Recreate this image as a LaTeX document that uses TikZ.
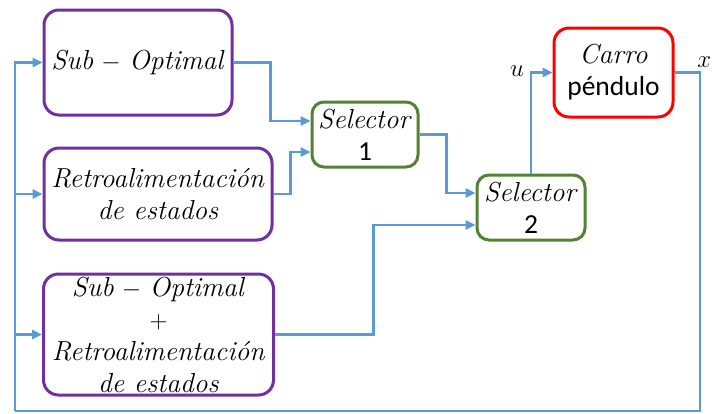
\documentclass[tikz,border=0pt]{standalone}
\usepackage{fontspec}
\newfontfamily\carlito{Carlito}
\usetikzlibrary{arrows.meta}
\definecolor{purpleC}{HTML}{7030A0}
\definecolor{greenC}{HTML}{548235}
\definecolor{redC}{HTML}{FF0000}
\definecolor{blueC}{HTML}{5B9BD5}
\begin{document}
\begin{tikzpicture}[x=1pt,y=-1pt,
  box/.style={draw, rounded corners=15pt, line width=3pt, align=center, inner sep=0pt, font=\fontsize{27.5}{32}\selectfont},
  pbox/.style={box, draw=purpleC},
  gbox/.style={box, draw=greenC, rounded corners=12pt},
  rbox/.style={box, draw=redC},
  conn/.style={draw=blueC, line width=2.4pt},
  arr/.style={conn, -{Triangle[length=10pt,width=9pt]}},
  lbl/.style={font=\fontsize{27.5}{32}\selectfont, inner sep=0pt}]
\useasboundingbox (0,0) rectangle (712,413);
\fill[white] (0,0) rectangle (712,413);
% blocks
\node[pbox, minimum width=188pt, minimum height=105pt] (b1) at (138,62.5) {\textit{Sub} $-$ \textit{Optimal}};
\node[pbox, minimum width=228pt, minimum height=92pt] (b2) at (158,194) {\textit{Retroalimentación}\\\textit{de estados}};
\node[pbox, minimum width=230pt, minimum height=121pt] (b3) at (158.5,334.5) {\textit{Sub} $-$ \textit{Optimal}\\$+$\\\textit{Retroalimentación}\\\textit{de estados}};
\node[gbox, minimum width=106pt, minimum height=65pt] (s1) at (365,134.5) {\textit{Selector}\\{\carlito 1}};
\node[gbox, minimum width=108pt, minimum height=65pt] (s2) at (531,207.5) {\textit{Selector}\\{\carlito 2}};
\node[rbox, minimum width=119pt, minimum height=89pt] (c) at (613.5,72.5) {\textit{Carro}\\{\carlito péndulo}};
% labels
\node[lbl] (u) at (517,71) {$u$};
\node[lbl, anchor=east] (x) at (711.5,62) {$x$};
% connectors
\draw[arr] (b1.east) -| ([xshift=-40pt,yshift=13.5pt]s1.west) -- ([yshift=13.5pt]s1.west);
\draw[arr] (b2.east) -| ([xshift=-20pt,yshift=-17.5pt]s1.west) -- ([yshift=-17.5pt]s1.west);
\draw[arr] (s1.east) -| ([xshift=-29pt,yshift=14.5pt]s2.west) -- ([yshift=14.5pt]s2.west);
\draw[arr] (b3.east) -| ([xshift=-102pt,yshift=-17.5pt]s2.west) -- ([yshift=-17.5pt]s2.west);
\draw[arr] (s2.north) |- (c.west);
\coordinate (fr) at (700,411);
\coordinate (fb) at (15,411);
\draw[conn] (c.east) -| (fr) -- (fb);
\draw[arr] (fb) |- (b1.west);
\draw[arr] (b2.west -| fb) -- (b2.west);
\draw[arr] (b3.west -| fb) -- (b3.west);
\end{tikzpicture}
\end{document}
